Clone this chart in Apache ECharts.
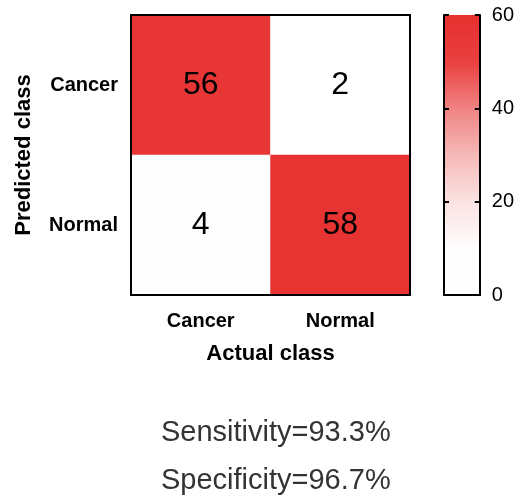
<!DOCTYPE html>
<html>
<head>
<meta charset="utf-8">
<script src="https://cdn.jsdelivr.net/npm/echarts@6/dist/echarts.min.js"></script>
<style>html,body{margin:0;padding:0;background:#fff;}#c{width:517px;height:500px;}</style>
</head>
<body>
<div id="c"></div>
<script>
var actualClasses = ['Cancer', 'Normal'];
var predictedClasses = ['Normal', 'Cancer']; // bottom to top
// [actualIndex, predictedIndex, count]
var cells = [[0, 1, 56], [1, 1, 2], [0, 0, 4], [1, 0, 58]];
var colorMin = 0, colorMax = 60, colorStep = 20;
var statLines = ['Sensitivity=93.3%', 'Specificity=96.7%'];

var FONT = 'Liberation Sans';
var RAMP = ['#ffffff', '#fffdfd', '#fbe2e2', '#f6b8b8', '#f08282', '#e94040', '#e83030'];
var chart = echarts.init(document.getElementById('c'));
var border = { show: true, lineStyle: { color: '#000', width: 2 } };
var gradStops = RAMP.map(function (c, i) { return { offset: i / (RAMP.length - 1), color: c }; });

chart.setOption({
  animation: false,
  textStyle: { fontFamily: FONT },
  grid: [
    { left: 131, top: 15, width: 279, height: 280 },
    { left: 444, top: 15, width: 36, height: 280 }
  ],
  xAxis: [
    { gridIndex: 0, type: 'category', data: actualClasses, position: 'bottom', z: 10,
      axisLine: border, axisTick: { show: false }, splitLine: { show: false },
      axisLabel: { color: '#000', fontWeight: 'bold', fontSize: 20, margin: 16, fontFamily: FONT },
      name: 'Actual class', nameLocation: 'middle', nameGap: 48,
      nameTextStyle: { color: '#000', fontWeight: 'bold', fontSize: 22, fontFamily: FONT } },
    { gridIndex: 0, type: 'category', data: actualClasses, position: 'top', z: 10,
      axisLine: border, axisTick: { show: false }, axisLabel: { show: false } },
    { gridIndex: 1, type: 'category', data: ['c'], position: 'bottom', z: 10,
      axisLine: border, axisTick: { show: false }, axisLabel: { show: false } },
    { gridIndex: 1, type: 'category', data: ['c'], position: 'top', z: 10,
      axisLine: border, axisTick: { show: false }, axisLabel: { show: false } }
  ],
  yAxis: [
    { gridIndex: 0, type: 'category', data: predictedClasses, position: 'left', z: 10,
      axisLine: border, axisTick: { show: false }, splitLine: { show: false },
      axisLabel: { color: '#000', fontWeight: 'bold', fontSize: 20, margin: 13, fontFamily: FONT },
      name: 'Predicted class', nameLocation: 'middle', nameGap: 96, nameRotate: 90,
      nameTextStyle: { color: '#000', fontWeight: 'bold', fontSize: 22, fontFamily: FONT } },
    { gridIndex: 0, type: 'category', data: predictedClasses, position: 'right', z: 10,
      axisLine: border, axisTick: { show: false }, axisLabel: { show: false } },
    { gridIndex: 1, type: 'value', min: colorMin, max: colorMax, interval: colorStep, position: 'left', z: 10,
      axisLine: border, splitLine: { show: false }, axisLabel: { show: false },
      axisTick: { show: true, inside: true, length: 5, lineStyle: { color: '#000', width: 2 } } },
    { gridIndex: 1, type: 'value', min: colorMin, max: colorMax, interval: colorStep, position: 'right', z: 10,
      axisLine: border, splitLine: { show: false },
      axisLabel: { color: '#000', fontSize: 20, margin: 12, fontFamily: FONT },
      axisTick: { show: true, inside: true, length: 5, lineStyle: { color: '#000', width: 2 } } }
  ],
  visualMap: {
    show: false, type: 'continuous', seriesIndex: 0, min: colorMin, max: colorMax, dimension: 2,
    inRange: { color: RAMP }
  },
  series: [
    { type: 'heatmap', xAxisIndex: 0, yAxisIndex: 0, data: cells,
      label: { show: true, color: '#000', fontSize: 32, fontFamily: FONT },
      itemStyle: { borderWidth: 0 } },
    { type: 'bar', xAxisIndex: 2, yAxisIndex: 2, data: [colorMax], barWidth: '100%', silent: true,
      itemStyle: { color: new echarts.graphic.LinearGradient(0, 1, 0, 0, gradStops) } }
  ],
  graphic: statLines.map(function (t, i) {
    return { type: 'text', left: 161, top: 418 + i * 48,
      style: { text: t, fill: '#333', font: '29px "Liberation Sans"' } };
  })
});
</script>
</body>
</html>
